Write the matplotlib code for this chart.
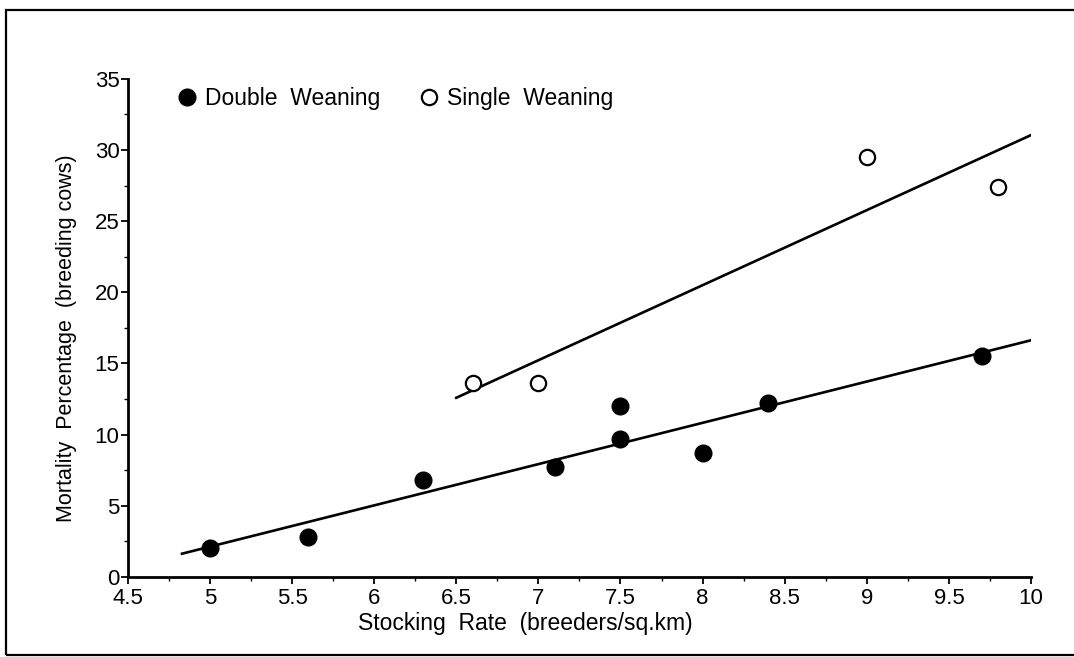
import numpy as np
import matplotlib.pyplot as plt
from matplotlib.patches import Rectangle
from matplotlib.ticker import MultipleLocator

plt.rcParams['font.family'] = ['Liberation Sans', 'DejaVu Sans']

# double weaning (filled)
double_x = [5.0, 5.6, 6.3, 7.1, 7.5, 7.5, 8.0, 8.4, 9.7]
double_y = [2.0, 2.8, 6.8, 7.7, 12.0, 9.7, 8.7, 12.2, 15.5]
double_fit_range = [4.83, 10.02]

# single weaning (open)
single_x = [6.6, 7.0, 9.0, 9.8]
single_y = [13.6, 13.6, 29.5, 27.4]
single_fit_range = [6.5, 10.02]

x_ticks = [4.5, 5, 5.5, 6, 6.5, 7, 7.5, 8, 8.5, 9, 9.5, 10]
x_labels = ['4.5', '5', '5.5', '6', '6.5', '7', '7.5', '8', '8.5', '9', '9.5', '10']
y_ticks = [0, 5, 10, 15, 20, 25, 30, 35]

fig = plt.figure(figsize=(10.74, 6.57), dpi=100)
ax = fig.add_axes([0.119, 0.122, 0.841, 0.758])

# outer frame of the scanned figure
fig.patches.append(Rectangle((0.006, 0.003), 1.1, 0.982, transform=fig.transFigure,
                             fill=False, edgecolor='black', linewidth=1.6))

for xs, ys, rng in [(double_x, double_y, double_fit_range),
                    (single_x, single_y, single_fit_range)]:
    k, b = np.polyfit(xs, ys, 1)
    lx = np.array(rng)
    ax.plot(lx, k * lx + b, color='black', linewidth=1.9, zorder=2)

ax.plot(double_x, double_y, 'o', color='black', markersize=12, zorder=3,
        label='Double  Weaning')
ax.plot(single_x, single_y, 'o', markerfacecolor='white', markeredgecolor='black',
        markeredgewidth=1.6, markersize=11, zorder=3, label='Single  Weaning')

ax.set_xlim(4.5, 10)
ax.set_ylim(0, 35)
ax.set_xticks(x_ticks)
ax.set_xticklabels(x_labels)
ax.set_yticks(y_ticks)
ax.xaxis.set_minor_locator(MultipleLocator(0.25))
ax.yaxis.set_minor_locator(MultipleLocator(2.5))
ax.tick_params(axis='both', which='major', labelsize=16, length=5, width=1.3, pad=1)
ax.tick_params(axis='both', which='minor', length=3, width=1.0)
ax.tick_params(axis='x', pad=3)

for s in ['top', 'right']:
    ax.spines[s].set_visible(False)
for s in ['left', 'bottom']:
    ax.spines[s].set_linewidth(2.0)

ax.set_xlabel('Stocking  Rate  (breeders/sq.km)', fontsize=16.5, labelpad=0)
ax.xaxis.set_label_coords(0.44, -0.07)
ax.set_ylabel('Mortality  Percentage  (breeding cows)', fontsize=15.5, labelpad=8)
ax.yaxis.set_label_coords(-0.056, 0.48)

ax.legend(loc='upper left', bbox_to_anchor=(0.03, 1.025), ncol=2, frameon=False,
          fontsize=16.5, handletextpad=0.3, columnspacing=1.6, handlelength=1.0)

fig.savefig('out.png', dpi=100)
